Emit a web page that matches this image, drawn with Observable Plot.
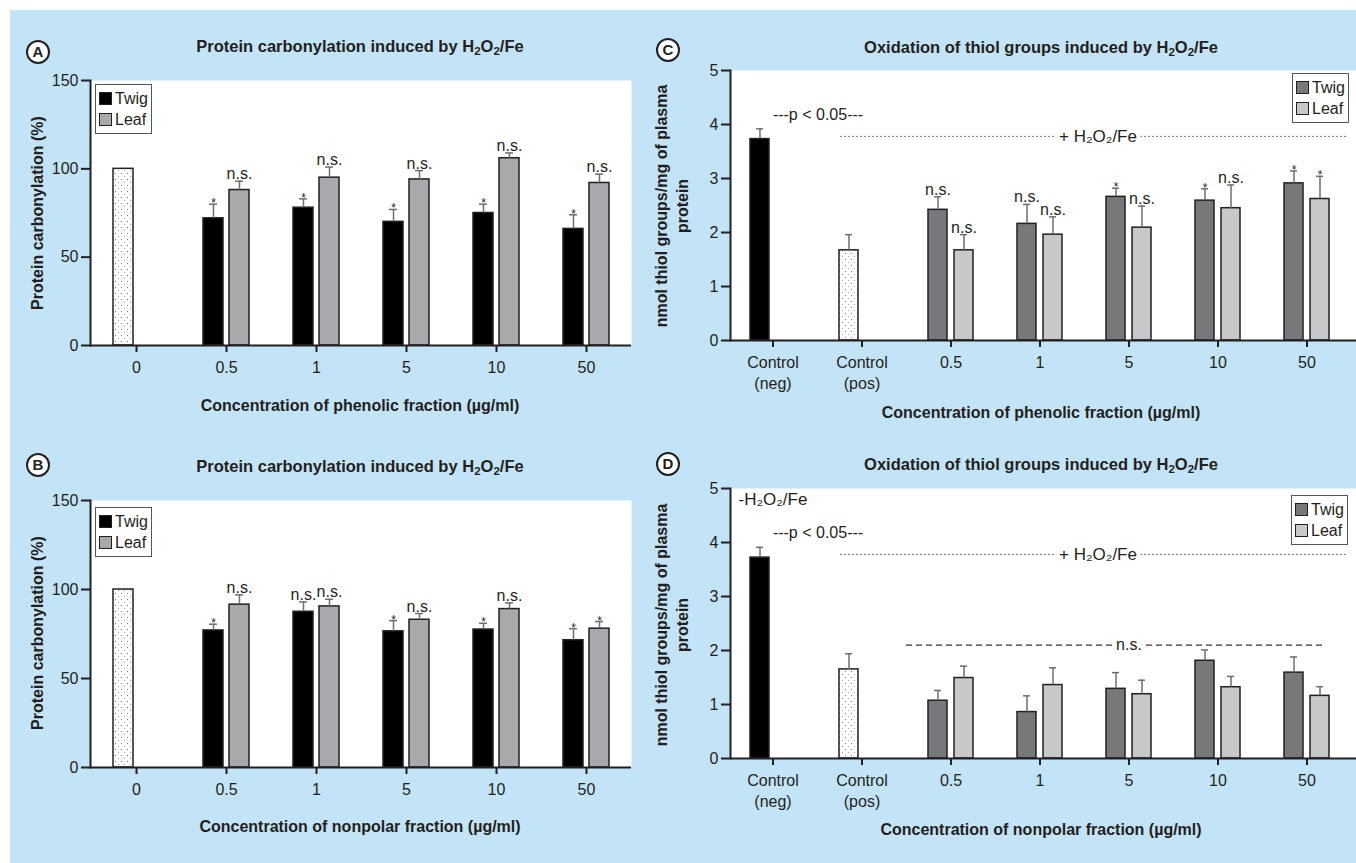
<!DOCTYPE html>
<html><head><meta charset="utf-8">
<script src="https://cdn.jsdelivr.net/npm/d3@7"></script>
<script src="https://cdn.jsdelivr.net/npm/@observablehq/plot@0.6"></script>
<style>
body{margin:0;background:#fff;font-family:"Liberation Sans",Arial,sans-serif;color:#231f20}
#page{position:relative;width:1356px;height:863px;overflow:hidden;background:#fff}
#bg{position:absolute;left:10px;top:10px;right:0;bottom:0;background:#c3e4f6}
.abs{position:absolute}
.title,.xlab{font-weight:bold;font-size:16.5px;white-space:nowrap;transform:translate(-50%,-50%)}
.xlab{font-size:16px}
.ylab{font-weight:bold;font-size:16px;white-space:nowrap;text-align:center;line-height:21px;transform:translate(-50%,-50%) rotate(-90deg)}
.letter{width:20px;height:20px;border:2px solid #231f20;border-radius:50%;background:#fff;font-weight:bold;font-size:15px;text-align:center;line-height:20px;transform:translate(-50%,-50%)}
.legend{background:#fff;border:1.5px solid #555;box-sizing:border-box;font-size:16px;padding:3px 3px}
.legend .row{display:flex;align-items:center;height:21px}
.legend .sw{width:11px;height:11px;border:1.5px solid #231f20;margin-right:3px}
sub{font-size:70%;vertical-align:-0.3em;line-height:0}
.plot{position:absolute}
</style>
</head><body>
<div id="page"><div id="bg"></div></div>
<script>
// ---------- data ----------
const concA = ["0.5","1","5","10","50"];
const catsA = ["0","0.5","1","5","10","50"];
const ctrlCatsA = ["0"], ctrlKindsA = ["pos"], ctrlValsA = [100], ctrlErrsA = [null];
const twigA = [72, 78, 70, 75, 66], twigErrA = [8, 5, 7, 5, 8];
const leafA = [88, 95, 94, 106, 92], leafErrA = [5, 6, 5, 3, 5];
const twigSigA = ["*","*","*","*","*"], leafSigA = ["n.s.","n.s.","n.s.","n.s.","n.s."];

const catsB = ["0","0.5","1","5","10","50"];
const ctrlCatsB = ["0"], ctrlKindsB = ["pos"], ctrlValsB = [100], ctrlErrsB = [null];
const twigB = [77, 87.5, 76.5, 77.5, 71.5], twigErrB = [3.5, 5.5, 6, 3.5, 6.5];
const leafB = [91.5, 90.5, 83, 89, 78], leafErrB = [5.5, 4, 3.5, 3.5, 4];
const twigSigB = ["*","n.s.","*","*","*"], leafSigB = ["n.s.","n.s.","n.s.","n.s.","*"];

const catsC = ["Control (neg)","Control (pos)","0.5","1","5","10","50"];
const ctrlCatsC = ["Control (neg)","Control (pos)"], ctrlKindsC = ["neg","pos"];
const ctrlValsC = [3.73, 1.67], ctrlErrsC = [0.19, 0.29];
const twigC = [2.42, 2.16, 2.66, 2.59, 2.91], twigErrC = [0.24, 0.36, 0.16, 0.22, 0.23];
const leafC = [1.67, 1.96, 2.09, 2.45, 2.62], leafErrC = [0.29, 0.33, 0.40, 0.43, 0.42];
const twigSigC = ["n.s.","n.s.","*","*","*"], leafSigC = ["n.s.","n.s.","n.s.","n.s.","*"];

const catsD = catsC;
const ctrlValsD = [3.72, 1.65], ctrlErrsD = [0.19, 0.29];
const twigD = [1.07, 0.86, 1.29, 1.81, 1.59], twigErrD = [0.19, 0.30, 0.30, 0.20, 0.29];
const leafD = [1.49, 1.36, 1.19, 1.32, 1.16], leafErrD = [0.22, 0.32, 0.26, 0.20, 0.17];

const pLabel = "---p < 0.05---", pLabelY = 4.18;
const treatLabel = "+ H₂O₂/Fe", treatY = 3.78;
const noTreatLabel = "-H₂O₂/Fe";
const nsLabel = "n.s.", nsLineY = 2.1;

// ---------- helpers ----------
const INK = "#231f20", ERR = "#6d6e71";
function defs() {
  const d = d3.create("svg:defs");
  const p = d.append("pattern").attr("id","dots").attr("width",6).attr("height",6).attr("patternUnits","userSpaceOnUse");
  p.append("rect").attr("width",6).attr("height",6).attr("fill","white");
  p.append("circle").attr("cx",1.5).attr("cy",1.5).attr("r",0.6).attr("fill","#666");
  p.append("circle").attr("cx",4.5).attr("cy",4.5).attr("r",0.6).attr("fill","#999");
  return d.node();
}
function makePanel(cfg) {
  const rows = [];
  cfg.ctrlCats.forEach((c,i)=>rows.push({cat:c, kind:cfg.ctrlKinds[i], slot:"L", v:cfg.ctrlVals[i], e:cfg.ctrlErrs[i], sig:null}));
  cfg.conc.forEach((c,i)=>{
    rows.push({cat:c, kind:"twig", slot:"L", v:cfg.twig[i], e:cfg.twigErr[i], sig:cfg.twigSig ? cfg.twigSig[i] : null});
    rows.push({cat:c, kind:"leaf", slot:"R", v:cfg.leaf[i], e:cfg.leafErr[i], sig:cfg.leafSig ? cfg.leafSig[i] : null});
  });
  const L = rows.filter(d=>d.slot==="L" && d.e!=null), R = rows.filter(d=>d.slot==="R" && d.e!=null);
  const bar = (kind, fill, slot) => Plot.barY(rows.filter(d=>d.kind===kind), {
    x:"cat", y:"v", fill, stroke:INK, strokeWidth:1.5,
    insetLeft: slot==="L" ? 4 : 30, insetRight: slot==="L" ? 30 : 4});
  const err = (data, dx, il, ir) => [
    Plot.ruleX(data, {x:"cat", y1:"v", y2:d=>d.v+d.e, dx, stroke:ERR, strokeWidth:1.5}),
    Plot.tickY(data, {x:"cat", y:d=>d.v+d.e, insetLeft:il, insetRight:ir, stroke:ERR, strokeWidth:1.5})
  ];
  const sig = (data, dx) => [
    Plot.text(data.filter(d=>d.sig==="*"), {x:"cat", y:d=>d.v+d.e, text:"sig", dx, dy:3, lineAnchor:"bottom", fontSize:12, fill:INK}),
    Plot.text(data.filter(d=>d.sig && d.sig!=="*"), {x:"cat", y:d=>d.v+d.e, text:"sig", dx, dy:-2, lineAnchor:"bottom", fontSize:16, fill:INK})
  ];
  const plot = Plot.plot({
    width: cfg.width, height: cfg.height,
    marginLeft: cfg.marginLeft, marginRight: cfg.marginRight, marginTop: 10, marginBottom: cfg.marginBottom,
    style: {background:"transparent", fontFamily:"'Liberation Sans', Arial, sans-serif", fontSize:"16px", overflow:"visible", color:INK},
    x: {domain: cfg.cats, type:"band", paddingInner:0.4, paddingOuter: cfg.paddingOuter, insetRight: cfg.insetRight || 0, axis:null, label:null},
    y: {domain: cfg.yDomain, axis:null, label:null},
    marks: [
      defs,
      Plot.frame({fill:"white", stroke:"none"}),
      ...(cfg.before || []),
      bar("neg", "#000000", "L"),
      bar("pos", "url(#dots)", "L"),
      bar("twig", cfg.twigColor, "L"),
      bar("leaf", cfg.leafColor, "R"),
      ...err(L, -13, 10, 36),
      ...err(R, 13, 36, 10),
      ...sig(L, -13),
      ...sig(R, 13),
      ...(cfg.after || []),
      Plot.ruleY([0], {stroke:INK, strokeWidth:2}),
      Plot.frame({anchor:"left", stroke:INK, strokeWidth:2}),
      Plot.axisY({ticks: cfg.yTicks, tickFormat: d=>String(d), tickSize:9, tickPadding:3, stroke:INK, strokeWidth:2, fill:INK, fontSize:16, label:null}),
      Plot.axisX({tickSize:7, tickPadding:5, stroke:INK, strokeWidth:2, fill:INK, fontSize:16, lineHeight:1.35, label:null, tickFormat: cfg.tickFormat || (d=>d)})
    ]
  });
  return plot;
}
function place(el, left, top) { el.style.left = left+"px"; el.style.top = top+"px"; el.classList.add("plot"); document.getElementById("page").appendChild(el); }
function html(cls, left, top, inner) { const d = document.createElement("div"); d.className = "abs " + cls; d.style.left = left+"px"; d.style.top = top+"px"; d.innerHTML = inner; document.getElementById("page").appendChild(d); return d; }
function legend(left, top, twigColor, leafColor) {
  html("legend", left, top, `<div class="row"><div class="sw" style="background:${twigColor}"></div>Twig</div><div class="row"><div class="sw" style="background:${leafColor}"></div>Leaf</div>`);
}
const ctlFmt = d => d.startsWith("Control") ? d.replace(" ", "\n") : d;
const H2O2 = "H<sub>2</sub>O<sub>2</sub>/Fe";

// ---------- A ----------
place(makePanel({cats:catsA, conc:concA, ctrlCats:ctrlCatsA, ctrlKinds:ctrlKindsA, ctrlVals:ctrlValsA, ctrlErrs:ctrlErrsA,
  twig:twigA, twigErr:twigErrA, leaf:leafA, leafErr:leafErrA, twigSig:twigSigA, leafSig:leafSigA,
  yDomain:[0,150], yTicks:[0,50,100,150], twigColor:"#000000", leafColor:"#a7a9ac",
  width:640, height:310, marginLeft:90, marginRight:9, marginBottom:35, paddingOuter:0.2}), 0, 70);
// ---------- B ----------
place(makePanel({cats:catsB, conc:concA, ctrlCats:ctrlCatsB, ctrlKinds:ctrlKindsB, ctrlVals:ctrlValsB, ctrlErrs:ctrlErrsB,
  twig:twigB, twigErr:twigErrB, leaf:leafB, leafErr:leafErrB, twigSig:twigSigB, leafSig:leafSigB,
  yDomain:[0,150], yTicks:[0,50,100,150], twigColor:"#000000", leafColor:"#a7a9ac",
  width:640, height:312, marginLeft:90, marginRight:9, marginBottom:35, paddingOuter:0.2}), 0, 490);
// ---------- C ----------
const treatMarks = (y) => [
  Plot.ruleY([y], {x1:()=>"Control (pos)", x2:()=>"50", insetLeft:5, insetRight:-13, stroke:"#777", strokeWidth:1, strokeDasharray:"2,2"}),
  Plot.text([treatLabel], {x:()=>"5", y:()=>y, text:d=>d, dx:-31, fontSize:17, fill:INK, stroke:"white", strokeWidth:8}),
  Plot.text([pLabel], {x:()=>"Control (neg)", y:()=>pLabelY, text:d=>d, dx:45, fontSize:16, fill:INK})
];
place(makePanel({cats:catsC, conc:concA, ctrlCats:ctrlCatsC, ctrlKinds:ctrlKindsC, ctrlVals:ctrlValsC, ctrlErrs:ctrlErrsC,
  twig:twigC, twigErr:twigErrC, leaf:leafC, leafErr:leafErrC, twigSig:twigSigC, leafSig:leafSigC,
  yDomain:[0,5], yTicks:[0,1,2,3,4,5], twigColor:"#77787b", leafColor:"#c7c8ca", tickFormat:ctlFmt,
  width:716, height:340, marginLeft:90, marginRight:0, marginBottom:60, paddingOuter:0.17, insetRight:6,
  after: treatMarks(treatY)}), 640, 60);
// ---------- D ----------
place(makePanel({cats:catsD, conc:concA, ctrlCats:ctrlCatsC, ctrlKinds:ctrlKindsC, ctrlVals:ctrlValsD, ctrlErrs:ctrlErrsD,
  twig:twigD, twigErr:twigErrD, leaf:leafD, leafErr:leafErrD,
  yDomain:[0,5], yTicks:[0,1,2,3,4,5], twigColor:"#77787b", leafColor:"#c7c8ca", tickFormat:ctlFmt,
  width:716, height:340, marginLeft:90, marginRight:0, marginBottom:60, paddingOuter:0.17, insetRight:6,
  after: [
    ...treatMarks(treatY),
    Plot.text([noTreatLabel], {frameAnchor:"top-left", text:d=>d, textAnchor:"start", lineAnchor:"top", dx:8, dy:4, fontSize:17, fill:INK}),
    Plot.ruleY([nsLineY], {x1:()=>"0.5", x2:()=>"50", insetLeft:-18, insetRight:11, stroke:"#333", strokeWidth:1.2, strokeDasharray:"6,4"}),
    Plot.text([nsLabel], {x:()=>"5", y:()=>nsLineY, text:d=>d, fontSize:16, fill:INK, stroke:"white", strokeWidth:8})
  ]}), 640, 478);

// ---------- HTML text ----------
html("letter", 38, 52, "A"); html("letter", 38, 465, "B"); html("letter", 668, 50, "C"); html("letter", 668, 464, "D");
html("title", 360, 46, "Protein carbonylation induced by " + H2O2);
html("title", 360, 466, "Protein carbonylation induced by " + H2O2);
html("title", 1041, 47, "Oxidation of thiol groups induced by " + H2O2);
html("title", 1041, 464, "Oxidation of thiol groups induced by " + H2O2);
html("xlab", 360, 406, "Concentration of phenolic fraction (µg/ml)");
html("xlab", 360, 827, "Concentration of nonpolar fraction (µg/ml)");
html("xlab", 1041, 413, "Concentration of phenolic fraction (µg/ml)");
html("xlab", 1041, 830, "Concentration of nonpolar fraction (µg/ml)");
html("ylab", 37, 213, "Protein carbonylation (%)");
html("ylab", 37, 633, "Protein carbonylation (%)");
html("ylab", 672, 206, "nmol thiol groups/mg of plasma<br>protein");
html("ylab", 672, 625, "nmol thiol groups/mg of plasma<br>protein");
legend(95, 84, "#000000", "#a7a9ac");
legend(95, 507, "#000000", "#a7a9ac");
legend(1292, 73, "#77787b", "#c7c8ca");
legend(1291, 495, "#77787b", "#c7c8ca");
</script>
</body></html>
